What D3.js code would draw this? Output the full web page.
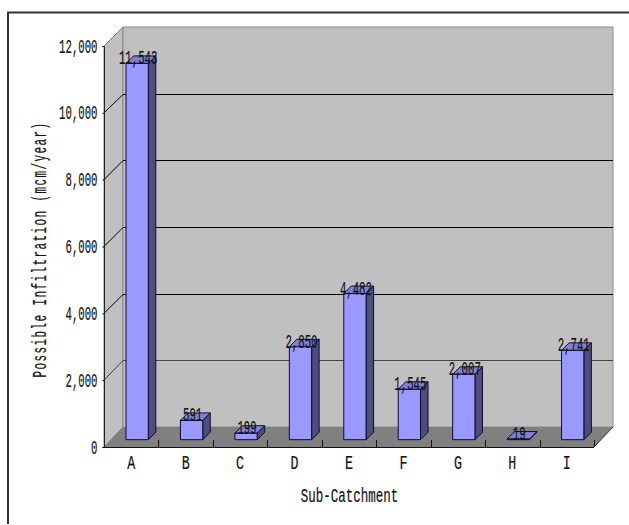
<!DOCTYPE html>
<html>
<head>
<meta charset="utf-8">
<script src="https://cdnjs.cloudflare.com/ajax/libs/d3/7.8.5/d3.min.js"></script>
<style>
html, body { margin: 0; padding: 0; background: #fff; }
svg { display: block; }
text { font-family: "Liberation Mono", monospace; fill: #111; stroke: #111; stroke-width: 0.2; }
</style>
</head>
<body>
<svg width="629" height="525"></svg>
<script>
const categories = ['A', 'B', 'C', 'D', 'E', 'F', 'G', 'H', 'I'];
const values = [11543, 591, 199, 2850, 4482, 1545, 2007, 19, 2741];
const valueLabels = ['11,543', '591', '199', '2,850', '4,482', '1,545', '2,007', '19', '2,741'];
const yTicks = [0, 2000, 4000, 6000, 8000, 10000, 12000];

const svg = d3.select('svg');

// oblique box: front plane plus a fixed shift back to the wall
const frontLeft = 104, frontRight = 594, frontBottom = 447, frontTop = 46;
const depth = 19;
const backBottom = 427, backTop = 27;
const barDepth = 7.5;
const barFloor = 439.7;
const barOffset = 22, barWidth = 22.3;

const band = d3.scaleBand().domain(categories).range([frontLeft, frontRight]);
const y = d3.scaleLinear().domain([0, 12000]).range([frontBottom, frontTop]);
const backY = d3.scaleLinear().domain([0, 12000]).range([backBottom, backTop]);
const barY = d3.scaleLinear().domain([0, 12000]).range([barFloor, barFloor - 391.2]);

const poly = pts => 'M' + pts.map(p => p.join(',')).join('L') + 'Z';

// chart frame, only top and left are visible
svg.append('path')
    .attr('d', `M8,524V12.5H629`)
    .attr('fill', 'none')
    .attr('stroke', '#333')
    .attr('stroke-width', 2);

// left wall, back wall, floor
svg.append('path')
    .attr('d', poly([[frontLeft, frontBottom], [frontLeft, frontTop], [frontLeft + depth, backTop], [frontLeft + depth, backBottom]]))
    .attr('fill', '#c0c0c0')
    .attr('stroke', '#808080');
svg.append('rect')
    .attr('x', frontLeft + depth)
    .attr('y', backTop)
    .attr('width', frontRight - frontLeft)
    .attr('height', backBottom - backTop)
    .attr('fill', '#c0c0c0')
    .attr('stroke', '#8c8c8c');
svg.append('path')
    .attr('d', poly([[frontLeft, frontBottom], [frontLeft + depth, backBottom], [frontRight + depth, backBottom], [frontRight, frontBottom]]))
    .attr('fill', '#808080');
svg.append('path')
    .attr('d', `M${frontRight},${frontBottom}L${frontRight + depth},${backBottom}`)
    .attr('fill', 'none')
    .attr('stroke', '#333');

// gridlines run along the left wall then across the back wall
const grid = svg.append('g').attr('fill', 'none');
grid.selectAll('path')
    .data(yTicks.filter(d => d > 0 && d < 12000))
    .join('path')
    .attr('d', d => {
        const yb = Math.round(backY(d)) + 0.5;
        return `M${frontLeft},${y(d)}L${frontLeft + depth},${yb}H${frontRight + depth}`;
    })
    .attr('stroke', d => d === 2000 ? '#444' : '#000');

// axes
const yAxis = d3.axisLeft(y).tickValues(yTicks).tickFormat('').tickSize(1.5);
svg.append('g')
    .attr('transform', `translate(${frontLeft},0)`)
    .call(yAxis)
    .call(g => g.select('.domain').attr('stroke', '#222'));

const axisLine = svg.append('g').attr('stroke', '#111').attr('fill', 'none');
axisLine.append('path').attr('d', `M${frontLeft},${frontBottom + 0.5}H${frontRight}`);
axisLine.selectAll('line')
    .data(categories)
    .join('line')
    .attr('x1', d => Math.round(band(d) + band.bandwidth()) + 0.5)
    .attr('x2', d => Math.round(band(d) + band.bandwidth()) + 0.5)
    .attr('y1', frontBottom)
    .attr('y2', frontBottom - 7);

// 3d bars
const bars = svg.append('g')
    .selectAll('g')
    .data(values)
    .join('g')
    .attr('stroke', '#0c0c2a')
    .attr('stroke-linejoin', 'round');

const left = i => band(categories[i]) + barOffset;
const right = i => left(i) + barWidth;

bars.append('path')
    .attr('d', (d, i) => poly([[right(i), barY(d)], [right(i) + barDepth, barY(d) - barDepth], [right(i) + barDepth, barFloor - barDepth], [right(i), barFloor]]))
    .attr('fill', '#4d4d80');
bars.append('path')
    .attr('d', (d, i) => poly([[left(i), barY(d)], [left(i) + barDepth, barY(d) - barDepth], [right(i) + barDepth, barY(d) - barDepth], [right(i), barY(d)]]))
    .attr('fill', '#8080d5');
bars.append('rect')
    .attr('x', (d, i) => left(i))
    .attr('y', d => barY(d))
    .attr('width', barWidth)
    .attr('height', d => barFloor - barY(d))
    .attr('fill', '#9999ff');

// squeezed glyphs keep the tall narrow look of the labels
function label(sel, charWidth, size = 20) {
    return sel.attr('font-size', size)
        .attr('textLength', function() { return this.textContent.length * charWidth; })
        .attr('lengthAdjust', 'spacingAndGlyphs');
}

svg.append('g')
    .selectAll('text')
    .data(valueLabels)
    .join('text')
    .attr('x', (d, i) => left(i) + barWidth / 2 + 1)
    .attr('y', (d, i) => barY(values[i]) + 1)
    .attr('text-anchor', 'middle')
    .text(d => d)
    .call(label, 6.4);

svg.append('g')
    .selectAll('text')
    .data(yTicks)
    .join('text')
    .attr('x', frontLeft - 6.5)
    .attr('y', d => y(d) + 6.5)
    .attr('text-anchor', 'end')
    .text(d => d3.format(',')(d))
    .call(label, 6.4);

svg.append('g')
    .selectAll('text')
    .data(categories)
    .join('text')
    .attr('x', d => band(d) + band.bandwidth() / 2)
    .attr('y', 468.5)
    .attr('text-anchor', 'middle')
    .text(d => d)
    .call(label, 8);

svg.append('text')
    .attr('x', 349.5)
    .attr('y', 502)
    .attr('text-anchor', 'middle')
    .text('Sub-Catchment')
    .call(label, 7.5);

// narrow letters with open tracking on the vertical title
svg.append('text')
    .attr('transform', 'translate(46,249.5) rotate(-90) scale(0.55,1)')
    .attr('text-anchor', 'middle')
    .attr('font-size', 20)
    .attr('letter-spacing', 2.55)
    .text('Possible Infiltration (mcm/year)');
</script>
</body>
</html>
